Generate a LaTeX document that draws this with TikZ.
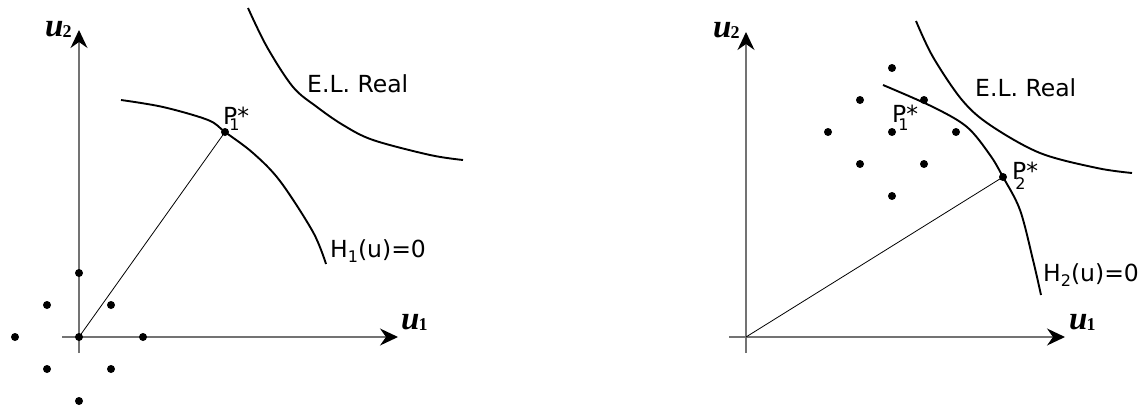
\documentclass[tikz,border=0pt]{standalone}
\usepackage{fontspec}
\setmainfont{DejaVu Sans}
\newfontfamily\ufont{Liberation Serif}
\usetikzlibrary{arrows.meta,calc}
\newcommand{\subsz}{\fontsize{16}{16}\selectfont}
\newcommand{\ulab}[1]{{\ufont\fontsize{33}{33}\selectfont\bfseries\itshape u\kern-1pt\raisebox{-1pt}{\fontsize{18}{18}\selectfont\upshape #1}}}
\newcommand{\pstar}[3]{P\kern-#2\rlap{\raisebox{-#3}{\subsz #1}}\kern#2*}
\begin{document}
\begin{tikzpicture}[x=1pt,y=-1pt,
  axis/.style={draw=black!55, line width=1.2pt, -{Stealth[length=18pt,width=17pt,inset=6pt,color=black]}},
  curve/.style={line width=1.9pt},
  ray/.style={line width=0.8pt},
  dot/.style={circle, fill, inner sep=0pt, minimum size=8pt},
  lbl/.style={anchor=base west, inner sep=0pt, font=\fontsize{23.5}{26}\selectfont},
  ulbl/.style={anchor=base west, inner sep=0pt}]
\useasboundingbox (0,0) rectangle (1148,407);

% ---------- left panel ----------
\coordinate (O1) at (79,337);
\coordinate (Y1s) at (79,353);
\coordinate (Y1e) at (79,30);
\coordinate (X1s) at (62,337);
\coordinate (X1e) at (398,337);
\draw[axis] (Y1s) -- (Y1e);
\draw[axis] (X1s) -- (X1e);
\node[ulbl] (u2a) at (45,36) {\ulab{2}};
\node[ulbl] (u1a) at (401,329) {\ulab{1}};

\foreach \dx/\dy [count=\i] in {0/0,0/-2,-1/-1,1/-1,-2/0,2/0,-1/1,1/1,0/2}
  \node[dot] (la\i) at ($(79,337)+(32*\dx,32*\dy)$) {};

\draw[curve] plot[smooth, tension=0.55] coordinates {(121,100) (163,107) (208,120) (225,132) (253,153) (280,181) (313,232) (326,264)};
\draw[curve] plot[smooth, tension=0.55] coordinates {(248,8) (267,47) (293,87) (317,107) (343,125) (373,140) (430,155) (463,160)};
\node[dot] (P1) at (225,132) {};
\draw[ray] (la1.center) -- (P1.center);

\node[lbl] (el1) at (307,92) {E.L. Real};
\node[lbl] (p1l) at (223,124) {\pstar{1}{8pt}{6pt}};
\node[lbl] (h1) at (330,257) {H\raisebox{-5pt}{\subsz 1}(u)=0};

% ---------- right panel ----------
\coordinate (Y2s) at (746,353);
\coordinate (Y2e) at (746,32);
\coordinate (X2s) at (729,337);
\coordinate (X2e) at (1065,337);
\coordinate (O2) at (746,337);
\draw[axis] (Y2s) -- (Y2e);
\draw[axis] (X2s) -- (X2e);
\node[ulbl] (u2b) at (713,37) {\ulab{2}};
\node[ulbl] (u1b) at (1069,329) {\ulab{1}};

\foreach \dx/\dy [count=\i] in {0/0,0/-2,-1/-1,1/-1,-2/0,2/0,-1/1,1/1,0/2}
  \node[dot] (rb\i) at ($(892,132)+(32*\dx,32*\dy)$) {};

\draw[curve] plot[smooth, tension=0.55] coordinates {(883,85) (933,107) (967,127) (990,155) (1003,177) (1020,210) (1033,260) (1041,295)};
\draw[curve] plot[smooth, tension=0.55] coordinates {(916,21) (933,57) (962,100) (990,125) (1040,153) (1097,168) (1132,173)};
\node[dot] (P2) at (1003,177) {};
\draw[ray] (O2) -- (P2.center);

\node[lbl] (el2) at (975,96) {E.L. Real};
\node[lbl] (p1r) at (892,122) {\pstar{1}{8pt}{8pt}};
\node[lbl] (p2r) at (1012,179) {\pstar{2}{11pt}{10pt}};
\node[lbl] (h2) at (1043,281) {H\raisebox{-5pt}{\subsz 2}(u)=0};
\end{tikzpicture}
\end{document}
